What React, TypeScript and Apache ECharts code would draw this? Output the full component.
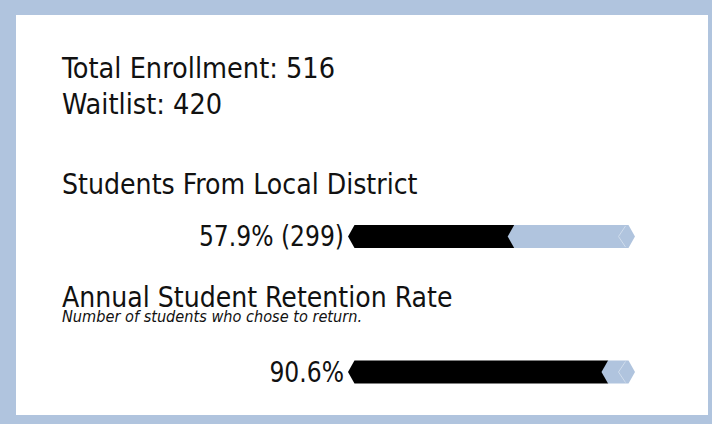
import React, { useEffect, useRef } from "react";
import * as echarts from "echarts";

const headerLines = ["Total Enrollment: 516", "Waitlist: 420"];
const sectionTitles = ["Students From Local District", "Annual Student Retention Rate"];
const sectionSubtitles = ["", "Number of students who chose to return."];
const barCategories = ["Local District", "Retention"];
const barValues = [57.9, 90.6];
const barLabels = ["57.9% (299)", "90.6%"];
const maxValue = 100;

const BLUE = "#b0c4de";
const FONT = "'DejaVu Sans Condensed', 'Liberation Sans Narrow', Roboto, sans-serif";

export default function App() {
  const ref = useRef<HTMLDivElement>(null);
  useEffect(() => {
    if (!ref.current) return;
    const chart = echarts.init(ref.current, undefined, { renderer: "svg" });
    const textStyle = (size: number, lh: number, italic = false) => ({
      fill: "#111",
      fontFamily: FONT,
      fontSize: size,
      lineHeight: lh,
      fontStyle: italic ? "italic" : "normal",
      align: "left",
      verticalAlign: "middle",
    });
    chart.setOption({
      animation: false,
      backgroundColor: BLUE,
      graphic: [
        { type: "rect", shape: { x: 16, y: 15, width: 692, height: 400 }, style: { fill: "#fff" }, z: -10 },
        { type: "text", x: 62, y: 68, scaleX: 0.985, style: { text: headerLines[0], ...textStyle(29, 30) } },
        { type: "text", x: 62, y: 104, scaleX: 0.985, style: { text: headerLines[1], ...textStyle(29, 30) } },
        { type: "text", x: 62, y: 184, scaleX: 0.97, style: { text: sectionTitles[0], ...textStyle(29, 30) } },
        { type: "text", x: 62, y: 297, scaleX: 0.968, style: { text: sectionTitles[1], ...textStyle(29, 24) } },
        { type: "text", x: 62, y: 317, scaleX: 1.01, style: { text: sectionSubtitles[1], ...textStyle(16, 14, true) } },
      ],
      grid: { left: 348, right: 77, top: 236.5, bottom: 52, containLabel: false },
      xAxis: { type: "value", min: 0, max: maxValue, show: false },
      yAxis: { type: "value", min: 0, max: barCategories.length - 1, inverse: true, show: false },
      series: [
        {
          type: "custom",
          name: "share",
          data: barValues.map((v, i) => [v, i]),
          encode: { x: 0, y: 1 },
          renderItem: (params: any, api: any) => {
            const v = api.value(0);
            const cat = api.value(1);
            const p0 = api.coord([0, cat]);
            const pv = api.coord([v, cat]);
            const p1 = api.coord([maxValue, cat]);
            const h = 23;
            const d = 6.5;
            const ym = p0[1];
            const top = ym - h / 2;
            const bot = ym + h / 2;
            const x0 = p0[0];
            const xv = pv[0];
            const xR = p1[0];
            return {
              type: "group",
              children: [
                {
                  type: "polygon",
                  shape: {
                    points: [
                      [x0, ym], [x0 + d, top], [xv, top], [xv + d, ym], [xv, bot], [x0 + d, bot],
                    ],
                  },
                  style: { fill: "#000" },
                },
                {
                  type: "polygon",
                  shape: {
                    points: [
                      [xv - d, ym], [xv, top], [xR - d, top], [xR, ym], [xR - d, bot], [xv, bot],
                    ],
                  },
                  style: { fill: BLUE },
                },
                {
                  type: "polyline",
                  shape: { points: [[xR - d - 3, top + 1], [xR - d - 10, ym], [xR - d - 3, bot - 1]] },
                  style: { stroke: "#cfdcec", lineWidth: 1, fill: null },
                },
                {
                  type: "text",
                  x: x0 - 4,
                  y: ym,
                  scaleX: 0.9,
                  style: {
                    text: barLabels[params.dataIndex],
                    fill: "#111",
                    fontFamily: FONT,
                    fontSize: 29,
                    align: "right",
                    verticalAlign: "middle",
                  },
                },
              ],
            };
          },
        },
      ],
    });
    return () => chart.dispose();
  }, []);
  return <div ref={ref} style={{ position: "fixed", left: 0, top: 0, width: 712, height: 424 }} />;
}
